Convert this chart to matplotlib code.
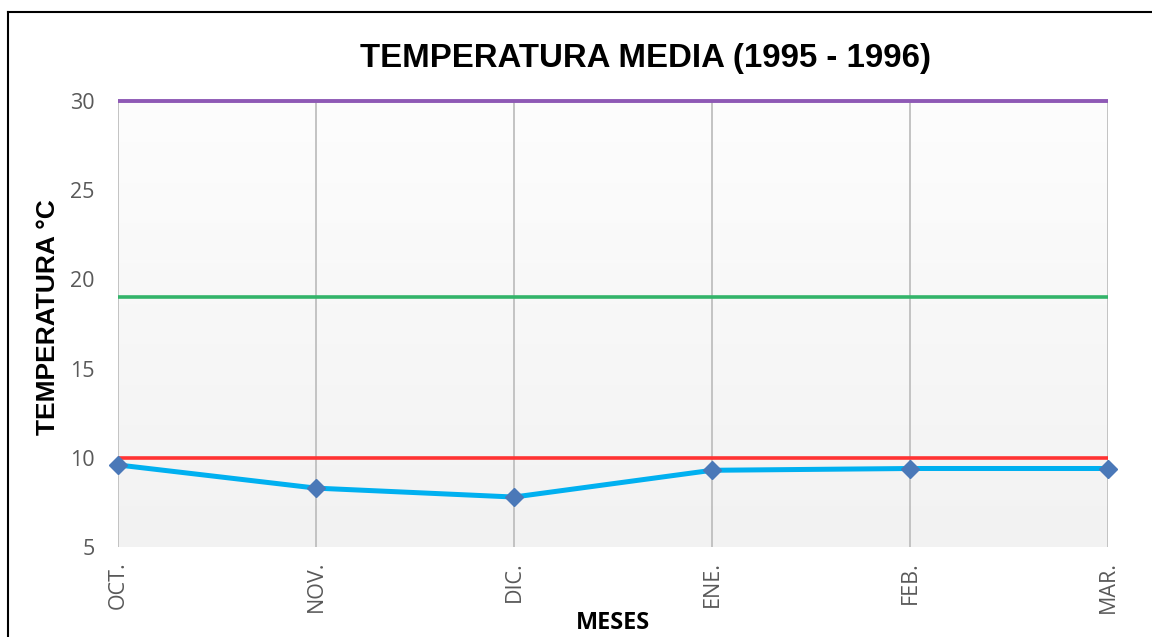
import numpy as np
import matplotlib.pyplot as plt
from matplotlib.lines import Line2D

# datos
meses = ['OCT.', 'NOV.', 'DIC.', 'ENE.', 'FEB.', 'MAR.']
temp_media = [9.6, 8.3, 7.8, 9.3, 9.4, 9.4]
lim_max = [30, 30, 30, 30, 30, 30]
lim_opt = [19, 19, 19, 19, 19, 19]
lim_min = [10, 10, 10, 10, 10, 10]
yticks = [5, 10, 15, 20, 25, 30]

fig = plt.figure(figsize=(11.52, 6.37), dpi=100)
ax = fig.add_axes([118/1152, 1-547/637, 990/1152, 446/637])

x = np.arange(len(meses))

# fondo degradado
grad = np.linspace(0, 1, 256).reshape(-1, 1)
ax.imshow(grad, extent=[0, len(meses)-1, 5, 30], aspect='auto', origin='lower',
          cmap=plt.matplotlib.colors.LinearSegmentedColormap.from_list('g', ['#f2f2f2', '#fdfdfd']),
          zorder=0)

ax.plot(x, lim_max, color='#8e59b5', lw=2.8, zorder=3, solid_capstyle='butt', clip_on=False)
ax.plot(x, lim_opt, color='#33b46a', lw=2.6, zorder=3, solid_capstyle='butt')
ax.plot(x, lim_min, color='#ff3333', lw=2.6, zorder=3, solid_capstyle='butt')
ax.plot(x, temp_media, color='#00b0f0', lw=3.6, zorder=4, clip_on=False,
        marker='D', markersize=9.5, markerfacecolor='#4a78b8', markeredgecolor='#4a78b8')

ax.set_xlim(0, len(meses)-1)
ax.set_ylim(5, 30)
ax.set_xticks(x)
ax.set_xticklabels(meses, rotation=90, fontsize=15.5, color='#595959', family='Open Sans')
ax.set_yticks(yticks)
ax.set_yticklabels([str(v) for v in yticks], fontsize=15.5, color='#595959', family='Open Sans')
ax.tick_params(axis='both', length=0)
ax.tick_params(axis='y', pad=17)
ax.tick_params(axis='x', pad=10)
ax.grid(axis='x', color='#bfbfbf', lw=1.3, zorder=1)
ax.set_axisbelow(True)
for s in ax.spines.values():
    s.set_visible(False)

fig.text(645/1152, 1-58/637, 'TEMPERATURA MEDIA (1995 - 1996)', ha='center', va='center',
         fontsize=23.8, fontweight='bold', family='Liberation Sans')
fig.text(613/1152, 1-623/637, 'MESES', ha='center', va='center',
         fontsize=16.8, fontweight='bold', family='Open Sans')
fig.text(48/1152, 1-317/637, 'TEMPERATURA °C', ha='center', va='center', rotation=90,
         fontsize=19, fontweight='bold', family='Liberation Sans')

# borde del grafico
fig.add_artist(Line2D([8/1152, 8/1152], [0, 1-12/637], transform=fig.transFigure, color='black', lw=1.5))
fig.add_artist(Line2D([8/1152, 1], [1-12/637, 1-12/637], transform=fig.transFigure, color='black', lw=1.5))

plt.savefig('out.png', dpi=100)
